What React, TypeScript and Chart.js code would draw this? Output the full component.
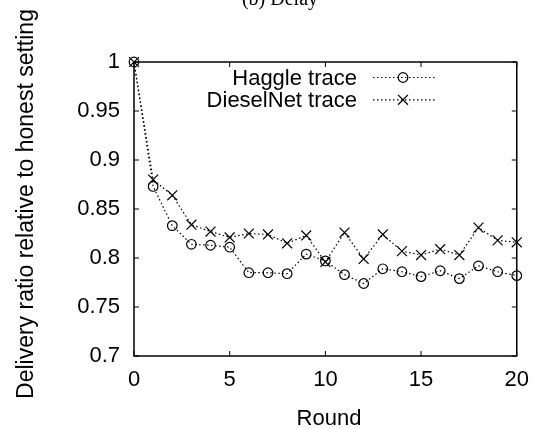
import React, { useEffect, useRef } from "react";
import { Chart, registerables } from "chart.js";

Chart.register(...registerables);

const rounds = [0, 1, 2, 3, 4, 5, 6, 7, 8, 9, 10, 11, 12, 13, 14, 15, 16, 17, 18, 19, 20];
const haggle = [1, 0.873, 0.833, 0.814, 0.813, 0.811, 0.785, 0.785, 0.784, 0.804, 0.797, 0.783, 0.774, 0.789, 0.786, 0.781, 0.787, 0.779, 0.792, 0.786, 0.782];
const diesel = [1, 0.880, 0.864, 0.834, 0.827, 0.821, 0.825, 0.824, 0.815, 0.823, 0.796, 0.826, 0.799, 0.824, 0.807, 0.803, 0.809, 0.803, 0.831, 0.818, 0.816];
const seriesNames = ["Haggle trace", "DieselNet trace"];
const xTicks = [0, 5, 10, 15, 20];
const yTicks = [0.7, 0.75, 0.8, 0.85, 0.9, 0.95, 1];
const titleText = "(b) Delay";
const xTitle = "Round";
const yTitle = "Delivery ratio relative to honest setting";

const SANS = "'Liberation Sans', Arial, sans-serif";

const decor = {
  id: "decor",
  afterDraw(chart: any) {
    const ctx = chart.ctx;
    const a = chart.chartArea;
    const xs = chart.scales.x;
    const ys = chart.scales.y;
    ctx.save();
    ctx.strokeStyle = "#000";
    ctx.lineWidth = 1.5;
    ctx.setLineDash([]);
    ctx.strokeRect(a.left, a.top, a.right - a.left, a.bottom - a.top);
    ctx.lineWidth = 1;
    const tl = 5;
    ctx.beginPath();
    xTicks.forEach((v) => {
      const px = xs.getPixelForValue(v);
      ctx.moveTo(px, a.bottom);
      ctx.lineTo(px, a.bottom - tl);
      ctx.moveTo(px, a.top);
      ctx.lineTo(px, a.top + tl);
    });
    yTicks.forEach((v) => {
      const py = ys.getPixelForValue(v);
      ctx.moveTo(a.left, py);
      ctx.lineTo(a.left + tl, py);
      ctx.moveTo(a.right, py);
      ctx.lineTo(a.right - tl, py);
    });
    ctx.stroke();

    // titles
    ctx.fillStyle = "#000";
    ctx.font = "20px 'Liberation Serif', 'Times New Roman', serif";
    ctx.textAlign = "center";
    ctx.textBaseline = "alphabetic";
    ctx.fillText(titleText, 280, 5);

    ctx.font = "22px " + SANS;
    ctx.fillText(xTitle, 329, 425);

    ctx.save();
    ctx.translate(33, 204);
    ctx.rotate(-Math.PI / 2);
    ctx.font = "23px " + SANS;
    ctx.fillText(yTitle, 0, 0);
    ctx.restore();

    // legend
    ctx.font = "22px " + SANS;
    ctx.textAlign = "right";
    const rowsY = [85, 107.3];
    chart.data.datasets.forEach((ds: any, i: number) => {
      const by = rowsY[i];
      ctx.fillText(ds.label, 357, by);
      const cy = by - 7.5;
      ctx.lineWidth = 1.2;
      ctx.setLineDash([1.5, 2.5]);
      ctx.beginPath();
      ctx.moveTo(373, cy);
      ctx.lineTo(436, cy);
      ctx.stroke();
      ctx.setLineDash([]);
      ctx.lineWidth = 1.2;
      ctx.strokeStyle = "#000";
      (Chart as any).helpers
        ? null
        : null;
      const r = ds.pointRadius;
      ctx.beginPath();
      if (ds.pointStyle === "circle") {
        ctx.arc(403, cy, r, 0, Math.PI * 2);
      } else {
        const o = Math.cos(Math.PI / 4) * r;
        ctx.moveTo(403 - o, cy - o);
        ctx.lineTo(403 + o, cy + o);
        ctx.moveTo(403 - o, cy + o);
        ctx.lineTo(403 + o, cy - o);
      }
      ctx.stroke();
    });
    ctx.restore();
  },
};

export default function App() {
  const ref = useRef<HTMLCanvasElement | null>(null);
  useEffect(() => {
    document.body.style.margin = "0";
    const canvas = ref.current!;
    const mk = (vals: number[]) => rounds.map((r, i) => ({ x: r, y: vals[i] }));
    const common = {
      borderColor: "#000",
      backgroundColor: "rgba(0,0,0,0)",
      borderWidth: 1.2,
      borderDash: [1.5, 2.5],
      pointBorderColor: "#000",
      pointBackgroundColor: "rgba(0,0,0,0)",
      pointBorderWidth: 1.2,
      fill: false,
      tension: 0,
      clip: false,
    };
    const chart = new Chart(canvas, {
      type: "line",
      data: {
        datasets: [
          { ...common, label: seriesNames[0], data: mk(haggle), pointStyle: "circle", pointRadius: 4.8 },
          { ...common, label: seriesNames[1], data: mk(diesel), pointStyle: "crossRot", pointRadius: 7 },
        ] as any,
      },
      options: {
        animation: false,
        responsive: false,
        devicePixelRatio: 1,
        layout: { padding: { top: 62, right: 17, left: 0, bottom: 0 } },
        plugins: { legend: { display: false }, tooltip: { enabled: false }, title: { display: false } },
        scales: {
          x: {
            type: "linear",
            min: 0,
            max: 20,
            grid: { display: false, drawTicks: false },
            border: { display: false },
            ticks: {
              stepSize: 5,
              color: "#000",
              font: { family: SANS, size: 22 },
              padding: 11,
              maxRotation: 0,
            },
            afterFit: (s: any) => {
              s.height = 73;
            },
          },
          y: {
            type: "linear",
            min: 0.7,
            max: 1,
            grid: { display: false, drawTicks: false },
            border: { display: false },
            ticks: {
              stepSize: 0.05,
              color: "#000",
              font: { family: SANS, size: 22 },
              padding: 14,
              callback: (v: any) => String(+Number(v).toFixed(2)),
            },
            afterFit: (s: any) => {
              s.width = 134;
            },
          },
        },
      } as any,
      plugins: [decor],
    });
    return () => chart.destroy();
  }, []);
  return <canvas ref={ref} width={540} height={429} style={{ display: "block", width: 540, height: 429 }} />;
}
